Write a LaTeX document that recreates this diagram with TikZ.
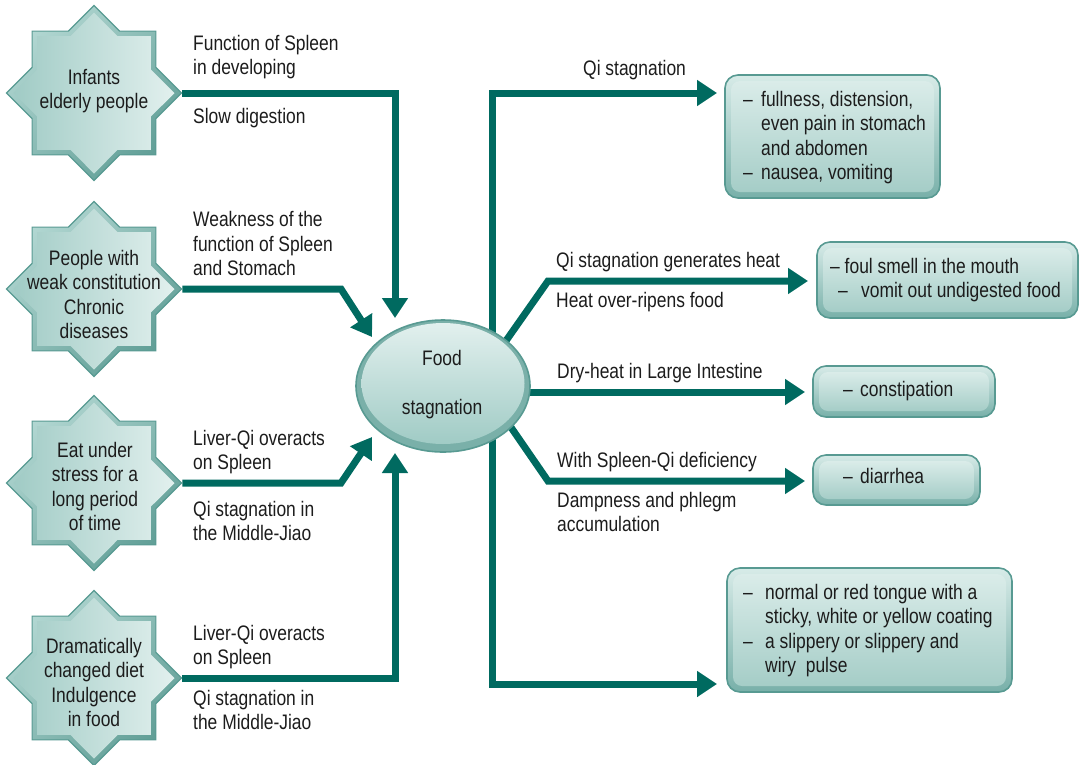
\documentclass[tikz,border=0pt]{standalone}
\usepackage{fontspec}
\setmainfont{Liberation Sans}[FakeStretch=0.83]
\usetikzlibrary{shapes.geometric,arrows.meta,backgrounds,calc}

\definecolor{link}{RGB}{0,106,96}
\definecolor{ink}{RGB}{28,28,28}
\definecolor{rim}{RGB}{88,154,146}
\definecolor{bevlight}{RGB}{178,215,210}
\definecolor{bevdark}{RGB}{96,158,150}
\definecolor{facel}{RGB}{160,203,197}
\definecolor{facer}{RGB}{226,240,238}
\definecolor{boxtop}{RGB}{215,235,232}
\definecolor{boxbot}{RGB}{120,176,169}
\definecolor{facetop}{RGB}{218,236,233}
\definecolor{facebot}{RGB}{165,205,199}

\newcommand{\itemdash}[1]{\makebox[#1][l]{–}}

\begin{document}
\begin{tikzpicture}[x=1pt,y=-1pt,
  every node/.style={font=\fontsize{21}{24.5}\selectfont, text=ink, inner sep=0pt},
  conn/.style={draw=link, line width=7pt, -{Triangle[width=25pt,length=20pt]}},
  starouter/.style={star, star points=8, star point ratio=1.307, minimum size=175pt,
    draw=rim, line width=1.2pt, top color=bevlight, bottom color=bevdark, shading angle=45},
  starface/.style={star, star points=8, star point ratio=1.307, minimum size=161pt,
    left color=facel, right color=facer},
  startext/.style={anchor=base, align=center},
  boxouter/.style={rectangle, rounded corners=13pt, draw=rim, line width=1.6pt,
    top color=boxtop, bottom color=boxbot},
  boxface/.style={rectangle, rounded corners=9pt, top color=facetop, bottom color=facebot},
  lbl/.style={anchor=base west, align=left},
]
\useasboundingbox (0,0) rectangle (1079,764);

% ---- source stars ----
\foreach \n/\y in {1/93, 2/289, 3/483, 4/678}{
  \node[starouter] (s\n) at (94,\y) {};
  \node[starface] (s\n f) at (94,\y) {};
}
% multi-line nodes sit on the baseline of their last line
\node[startext] (s1t) at (94,108.5) {Infants\\elderly people};
\node[startext] (s2t) at (94,338.5) {People with\\weak constitution\\Chronic\\diseases};
\node[startext] (s3t) at (95,530.5) {Eat under\\stress for a\\long period\\of time};
\node[startext] (s4t) at (94,726.5) {Dramatically\\changed diet\\Indulgence\\in food};

% ---- central ellipse ----
\node[ellipse, minimum width=174pt, minimum height=132pt, draw=rim, line width=1.6pt,
  fill=bevdark!60!facel] (fs) at (443,386) {};
\node[ellipse, minimum width=163pt, minimum height=121pt, top color=facer, bottom color=facel]
  (fsf) at (443,383.5) {};
\node[anchor=base, align=center] (fst) at (442,414.5) {Food\\[25pt]stagnation};

% ---- result boxes ----
\node[boxouter, minimum width=215pt, minimum height=123pt] (b1) at (832.5,136.5) {};
\node[boxface, minimum width=203pt, minimum height=111pt] (b1f) at (b1) {};
\node[boxouter, minimum width=261pt, minimum height=76pt] (b2) at (947.5,280) {};
\node[boxface, minimum width=249pt, minimum height=64pt] (b2f) at (b2) {};
\node[boxouter, minimum width=182pt, minimum height=51pt] (b3) at (904,391.5) {};
\node[boxface, minimum width=170pt, minimum height=39pt] (b3f) at (b3) {};
\node[boxouter, minimum width=167pt, minimum height=50pt] (b4) at (896.5,480) {};
\node[boxface, minimum width=155pt, minimum height=38pt] (b4f) at (b4) {};
\node[boxouter, minimum width=285pt, minimum height=124pt] (b5) at (869.5,630) {};
\node[boxface, minimum width=273pt, minimum height=112pt] (b5f) at (b5) {};

\node[lbl] (b1t) at (743,179.5) {\itemdash{18pt}fullness, distension,\\
  \hspace*{18pt}even pain in stomach\\ \hspace*{18pt}and abdomen\\ \itemdash{18pt}nausea, vomiting};
\node[lbl] (b2t) at (830,297.5) {– foul smell in the mouth\\
  \hspace*{8pt}\itemdash{23pt}vomit out undigested food};
\node[lbl] (b3t) at (843,396.5) {\itemdash{17pt}constipation};
\node[lbl] (b4t) at (843,483.5) {\itemdash{17pt}diarrhea};
\node[lbl] (b5t) at (743,672.5) {\itemdash{22pt}normal or red tongue with a\\
  \hspace*{22pt}sticky, white or yellow coating\\ \itemdash{22pt}a slippery or slippery and\\
  \hspace*{22pt}wiry\ \ pulse};

% ---- connector labels ----
\node[lbl] (l1) at (193,74.5) {Function of Spleen\\in developing};
\node[lbl] (l2) at (193,123.5) {Slow digestion};
\node[lbl] (l3) at (193,275.5) {Weakness of the\\function of Spleen\\and Stomach};
\node[lbl] (l4) at (193,469.5) {Liver-Qi overacts\\on Spleen};
\node[lbl] (l5) at (193,540.5) {Qi stagnation in\\the Middle-Jiao};
\node[lbl] (l6) at (193,664.5) {Liver-Qi overacts\\on Spleen};
\node[lbl] (l7) at (193,729.5) {Qi stagnation in\\the Middle-Jiao};
\node[lbl] (r1) at (583,75.5) {Qi stagnation};
\node[lbl] (r2) at (556,267.5) {Qi stagnation generates heat};
\node[lbl] (r3) at (556,307.5) {Heat over-ripens food};
\node[lbl] (r4) at (557,378.5) {Dry-heat in Large Intestine};
\node[lbl] (r5) at (557,467.5) {With Spleen-Qi deficiency};
\node[lbl] (r6) at (557,531.5) {Dampness and phlegm\\accumulation};

% ---- arrow ends ----
\coordinate (t1) at (395,318);
\coordinate (t2) at (372,337);
\coordinate (t3) at (372,437);
\coordinate (t4) at (395,453);
\coordinate (t5) at (717,93);
\coordinate (t6) at (808,281);
\coordinate (t7) at (805,392);
\coordinate (t8) at (805,481);
\coordinate (t9) at (717,684);

% ---- connectors ----
\begin{scope}[on background layer]
  \draw[conn] (s1.east) -| (t1);
  \draw[conn] (s2.east) -- (341,289) -- (t2);
  \draw[conn] (s3.east) -- (341,483) -- (t3);
  \draw[conn] (s4.east) -| (t4);
  \draw[conn] ($(fs.center)+(49,0)$) |- (t5);
  \draw[conn] ($(fs.center)+(53,-31)$) -- (548,281) -- (t6);
  \draw[conn] ($(fs.center)+(40,6)$) -- (t7);
  \draw[conn] ($(fs.center)+(54,21)$) -- (548,481) -- (t8);
  \draw[conn] ($(fs.center)+(49,0)$) |- (t9);
\end{scope}
\end{tikzpicture}
\end{document}
